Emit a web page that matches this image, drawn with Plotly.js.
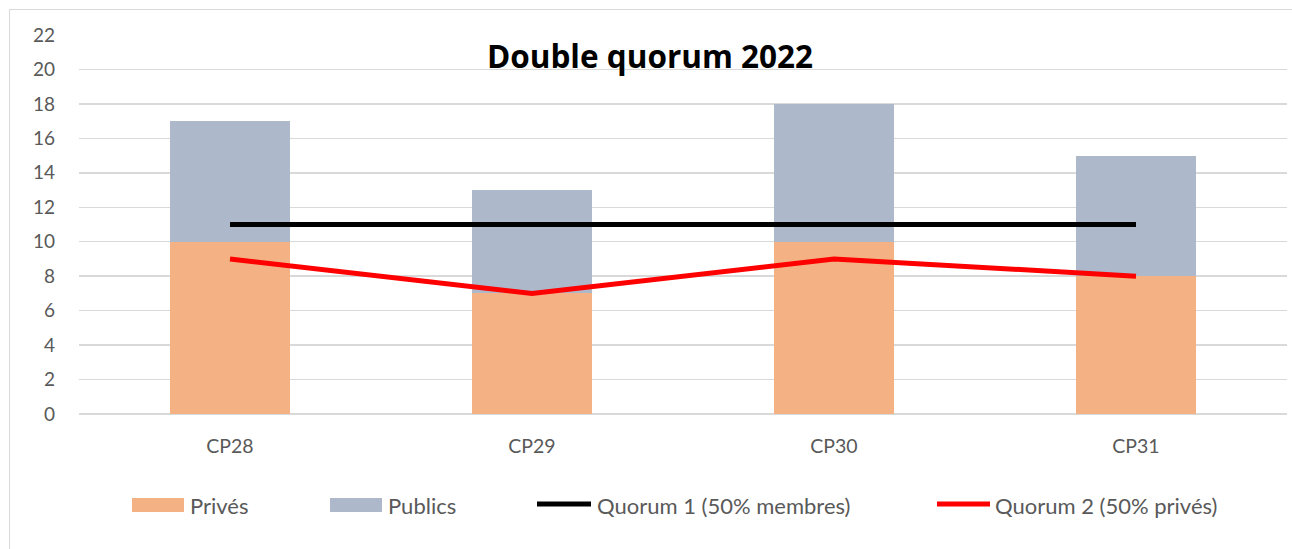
<!DOCTYPE html>
<html><head><meta charset="utf-8">
<script src="https://cdn.plot.ly/plotly-3.0.1.min.js"></script>
<style>
html,body{margin:0;padding:0;background:#fff;overflow:hidden}
#frame{position:absolute;left:9px;top:9px;width:1400px;height:700px;border:1.5px solid #d9d9d9;box-sizing:border-box}
#chart{position:absolute;left:0;top:0;width:1292px;height:549px}
</style></head>
<body>
<div id="frame"></div>
<div id="chart"></div>
<script>
const categories = ["CP28", "CP29", "CP30", "CP31"];
const prives = [10, 7, 10, 8];
const publics = [7, 6, 8, 7];
const quorum1 = [11, 11, 11, 11];
const quorum2 = [9, 7, 9, 8];
const yTicks = [0, 2, 4, 6, 8, 10, 12, 14, 16, 18, 20, 22];

const W = 1292, H = 549;
const L = 79, R = 5, T = 35, B = 135;
const pw = W - L - R, ph = H - T - B;
const px = x => (x - L) / pw;
const py = y => (H - B - y) / ph;
const FONT = "Lato, 'Open Sans', sans-serif";
const GREY = "#595959";

const traces = [
  {type: "bar", name: "Privés", x: categories, y: prives, marker: {color: "#F4B183"}, width: 0.4, hoverinfo: "y"},
  {type: "bar", name: "Publics", x: categories, y: publics, marker: {color: "#ADB9CA"}, width: 0.4, hoverinfo: "y"},
  {type: "scatter", mode: "lines", name: "Quorum 1 (50% membres)", x: categories, y: quorum1, line: {color: "#000000", width: 5}},
  {type: "scatter", mode: "lines", name: "Quorum 2 (50% privés)", x: categories, y: quorum2, line: {color: "#FF0000", width: 5}}
];

const legendItems = [
  {kind: "rect", color: "#F4B183", x0: 132, x1: 184, tx: 188, label: "Privés"},
  {kind: "rect", color: "#ADB9CA", x0: 330, x1: 382, tx: 386, label: "Publics"},
  {kind: "line", color: "#000000", x0: 537, x1: 591, tx: 595, label: "Quorum 1 (50% membres)"},
  {kind: "line", color: "#FF0000", x0: 937, x1: 990, tx: 993, label: "Quorum 2 (50% privés)"}
];
const ly = 505;
const shapes = [], annotations = [];
legendItems.forEach(it => {
  if (it.kind === "rect") {
    shapes.push({type: "rect", xref: "paper", yref: "paper", x0: px(it.x0), x1: px(it.x1), y0: py(ly + 7), y1: py(ly - 7), fillcolor: it.color, line: {width: 0}});
  } else {
    shapes.push({type: "line", xref: "paper", yref: "paper", x0: px(it.x0), x1: px(it.x1), y0: py(ly - 1), y1: py(ly - 1), line: {color: it.color, width: 5}});
  }
  annotations.push({xref: "paper", yref: "paper", x: px(it.tx), y: py(ly), xanchor: "left", yanchor: "middle", text: it.label, showarrow: false, font: {family: FONT, size: 22, color: GREY}});
});

const layout = {
  width: W, height: H,
  margin: {l: L, r: R, t: T, b: B, pad: 0},
  paper_bgcolor: "rgba(0,0,0,0)", plot_bgcolor: "rgba(0,0,0,0)",
  barmode: "stack",
  showlegend: false,
  title: {text: "<b>Double quorum 2022</b>", x: 650 / W, xanchor: "center", y: 1 - 57 / H, yanchor: "middle", font: {family: "'Open Sans', sans-serif", size: 31.5, color: "#000000"}},
  xaxis: {type: "category", range: [-0.5, 3.5], showgrid: false, zeroline: false, showline: false, ticks: "", tickfont: {family: FONT, size: 19.5, color: GREY}, ticklabelstandoff: 18},
  yaxis: {range: [0, 22], tickvals: yTicks, showgrid: true, gridcolor: "#d9d9d9", gridwidth: 1.5, zeroline: true, zerolinecolor: "#d9d9d9", zerolinewidth: 1.5, showline: false, ticks: "", tickfont: {family: FONT, size: 19, color: GREY}, ticklabelstandoff: 23},
  shapes: shapes,
  annotations: annotations
};
Plotly.newPlot("chart", traces, layout, {displayModeBar: false, staticPlot: true});
</script>
</body></html>
